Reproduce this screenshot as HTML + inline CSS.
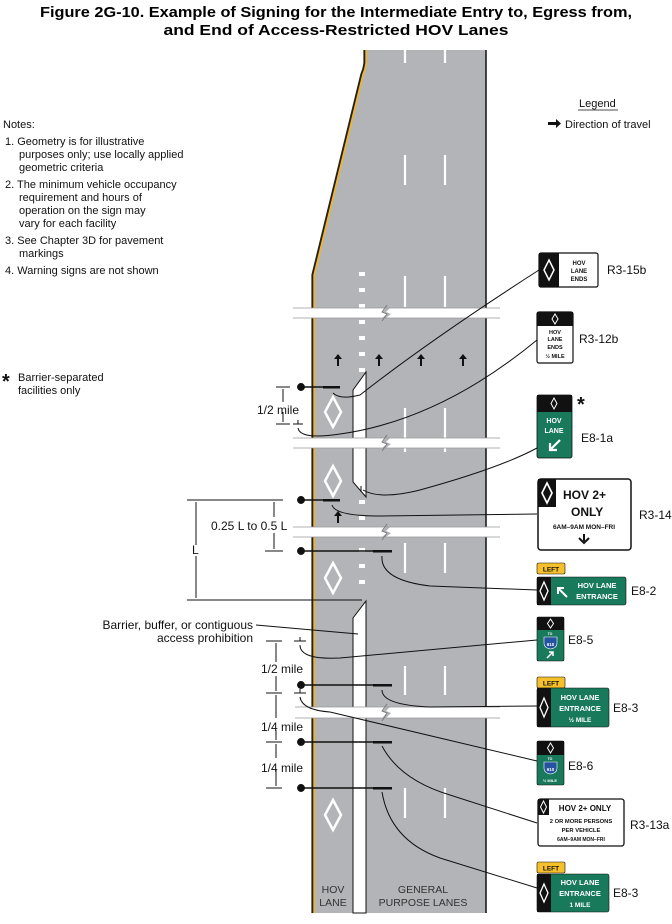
<!DOCTYPE html>
<html><head><style>
html,body{margin:0;padding:0;background:#fff}
svg{display:block}
text{font-family:"Liberation Sans",Arial,sans-serif}
</style></head><body>
<svg width="672" height="924" viewBox="0 0 672 924" xmlns="http://www.w3.org/2000/svg">
<text x="336" y="17" font-size="15" font-weight="bold" text-anchor="middle" textLength="592" lengthAdjust="spacingAndGlyphs">Figure 2G-10.  Example of Signing for the Intermediate Entry to, Egress from,</text>
<text x="336" y="35" font-size="15" font-weight="bold" text-anchor="middle" textLength="345" lengthAdjust="spacingAndGlyphs">and End of Access-Restricted HOV Lanes</text>

<path d="M365,50 L365,63 Q364,70 362,74 L313,275 L313,913 L486,913 L486,50 Z" fill="#b2b4b7"/>
<path d="M365,50 L365,63 Q364,70 362,74 L313,275 L313,913" fill="none" stroke="#222" stroke-width="3.2"/>
<path d="M365,50 L365,63 Q364,70 362,74 L313,275 L313,913" fill="none" stroke="#f2b42a" stroke-width="1.8" transform="translate(1.2,0)"/>
<line x1="486" y1="50" x2="486" y2="913" stroke="#111" stroke-width="1.5"/>

<g stroke="#fff" stroke-width="2.2">
<line x1="405" y1="50" x2="405" y2="63"/><line x1="445" y1="50" x2="445" y2="63"/>
<line x1="405" y1="155" x2="405" y2="185"/><line x1="445" y1="155" x2="445" y2="185"/>
<line x1="405" y1="276" x2="405" y2="307"/><line x1="445" y1="276" x2="445" y2="307"/>
<line x1="405" y1="408" x2="405" y2="452"/><line x1="445" y1="408" x2="445" y2="452"/>
<line x1="405" y1="543" x2="405" y2="573"/><line x1="445" y1="543" x2="445" y2="573"/>
<line x1="405" y1="666" x2="405" y2="695"/><line x1="445" y1="666" x2="445" y2="695"/>
<line x1="405" y1="788" x2="405" y2="818"/><line x1="445" y1="788" x2="445" y2="818"/>
</g>
<g fill="#fff">
<rect x="359" y="272" width="6" height="4"/><rect x="359" y="288" width="6" height="4"/><rect x="359" y="304" width="6" height="4"/>
<rect x="359" y="320" width="6" height="4"/><rect x="359" y="336" width="6" height="4"/><rect x="359" y="352" width="6" height="4"/>
<rect x="359" y="368" width="6" height="4"/>
<rect x="359" y="500" width="6" height="4"/><rect x="359" y="516" width="6" height="4"/><rect x="359" y="532" width="6" height="4"/>
<rect x="359" y="548" width="6" height="4"/><rect x="359" y="564" width="6" height="4"/><rect x="359" y="580" width="6" height="4"/>
</g>
<path d="M366,372 L366,497 L353,482 L353,390 Z" fill="#fff" stroke="#111" stroke-width="1"/>
<path d="M366,601 L366,913 L353,913 L353,618 Z" fill="#fff" stroke="#111" stroke-width="1"/>

<g fill="#111">
<path d="M338,354 l-4,5 h3 v7 h2 v-7 h3 z"/>
<path d="M379,354 l-4,5 h3 v7 h2 v-7 h3 z"/>
<path d="M421,354 l-4,5 h3 v7 h2 v-7 h3 z"/>
<path d="M463,354 l-4,5 h3 v7 h2 v-7 h3 z"/>
<path d="M338,511 l-4,5 h3 v7 h2 v-7 h3 z"/>
</g>
<g fill="none" stroke="#fff" stroke-width="2.5">
<path d="M333,397 l8,15 l-8,15 l-8,-15 z"/>
<path d="M333,466 l8,15 l-8,15 l-8,-15 z"/>
<path d="M333,563 l8,15 l-8,15 l-8,-15 z"/>
<path d="M333,800 l8,15 l-8,15 l-8,-15 z"/>
</g>

<g id="bands">
<g transform="translate(0,308)">
<path d="M293,0 H386 l-4,4 l5,2 l-5,4 H293 Z" fill="#fff"/>
<path d="M390,0 H500 V10 H386 l5,-4 l-5,-2 Z" fill="#fff"/>
<line x1="293" y1="0" x2="500" y2="0" stroke="#999" stroke-width="0.8"/><line x1="293" y1="10" x2="500" y2="10" stroke="#999" stroke-width="0.8"/>
<path d="M387,-3 l-5,7 l5,2 l-5,7" fill="none" stroke="#777" stroke-width="0.9"/>
</g>
<g transform="translate(0,438)">
<path d="M293,0 H386 l-4,4 l5,2 l-5,4 H293 Z" fill="#fff"/>
<path d="M390,0 H500 V10 H386 l5,-4 l-5,-2 Z" fill="#fff"/>
<line x1="293" y1="0" x2="500" y2="0" stroke="#999" stroke-width="0.8"/><line x1="293" y1="10" x2="500" y2="10" stroke="#999" stroke-width="0.8"/>
<path d="M387,-3 l-5,7 l5,2 l-5,7" fill="none" stroke="#777" stroke-width="0.9"/>
</g>
<g transform="translate(0,527)">
<path d="M293,0 H386 l-4,4 l5,2 l-5,4 H293 Z" fill="#fff"/>
<path d="M390,0 H500 V10 H386 l5,-4 l-5,-2 Z" fill="#fff"/>
<line x1="293" y1="0" x2="500" y2="0" stroke="#999" stroke-width="0.8"/><line x1="293" y1="10" x2="500" y2="10" stroke="#999" stroke-width="0.8"/>
<path d="M387,-3 l-5,7 l5,2 l-5,7" fill="none" stroke="#777" stroke-width="0.9"/>
</g>
<g transform="translate(0,707)">
<path d="M295,0 H386 l-4,4 l5,2 l-5,5 H295 Z" fill="#fff"/>
<path d="M390,0 H500 V11 H386 l5,-5 l-5,-2 Z" fill="#fff"/>
<line x1="295" y1="0" x2="500" y2="0" stroke="#999" stroke-width="0.8"/><line x1="295" y1="11" x2="500" y2="11" stroke="#999" stroke-width="0.8"/>
<path d="M387,-3 l-5,7 l5,2 l-5,8" fill="none" stroke="#777" stroke-width="0.9"/>
</g>
</g>

<g stroke="#111" stroke-width="1.5" fill="#111">
<circle cx="301" cy="387" r="3.2"/><line x1="301" y1="387" x2="340" y2="387"/><rect x="323" y="386" width="17" height="2.5" stroke="none"/>
<circle cx="301" cy="500" r="3.2"/><line x1="301" y1="500" x2="340" y2="500"/><rect x="323" y="499" width="17" height="2.5" stroke="none"/>
<circle cx="301" cy="551" r="3.2"/><line x1="301" y1="551" x2="392" y2="551"/><rect x="373" y="550" width="19" height="2.5" stroke="none"/>
<circle cx="301" cy="685" r="3.2"/><line x1="301" y1="685" x2="392" y2="685"/><rect x="373" y="684" width="19" height="2.5" stroke="none"/>
<circle cx="301" cy="742" r="3.2"/><line x1="301" y1="742" x2="392" y2="742"/><rect x="373" y="741" width="19" height="2.5" stroke="none"/>
<circle cx="301" cy="788" r="3.2"/><line x1="301" y1="788" x2="392" y2="788"/><rect x="373" y="787" width="19" height="2.5" stroke="none"/>
</g>
<g stroke="#111" stroke-width="1" fill="none">
<line x1="293" y1="424" x2="303" y2="424"/><line x1="298" y1="420" x2="298" y2="424"/>
<line x1="294" y1="641" x2="306" y2="641"/><line x1="300" y1="637" x2="300" y2="641"/>
<line x1="294" y1="693" x2="306" y2="693"/><line x1="300" y1="689" x2="300" y2="693"/>
<line x1="361" y1="486" x2="361" y2="492"/>
</g>

<g stroke="#111" stroke-width="1" fill="none">
<line x1="276" y1="387" x2="290" y2="387"/><line x1="276" y1="424" x2="290" y2="424"/>
<line x1="283" y1="389" x2="283" y2="402"/><line x1="283" y1="412" x2="283" y2="422"/>
<line x1="187" y1="500" x2="283" y2="500"/><line x1="265" y1="551" x2="283" y2="551"/>
<line x1="187" y1="600" x2="362" y2="600"/>
<line x1="196" y1="502" x2="196" y2="545"/><line x1="196" y1="556" x2="196" y2="598"/>
<line x1="274" y1="502" x2="274" y2="517"/><line x1="274" y1="533" x2="274" y2="549"/>
<line x1="266" y1="641" x2="282" y2="641"/><line x1="266" y1="693" x2="282" y2="693"/>
<line x1="276" y1="643" x2="276" y2="662"/><line x1="276" y1="676" x2="276" y2="691"/>
<line x1="276" y1="695" x2="276" y2="718"/><line x1="276" y1="730" x2="276" y2="740"/>
<line x1="266" y1="742" x2="282" y2="742"/>
<line x1="276" y1="744" x2="276" y2="758"/><line x1="276" y1="770" x2="276" y2="786"/>
<line x1="266" y1="788" x2="282" y2="788"/>
<line x1="256" y1="625" x2="358" y2="634"/>
</g>
<g fill="#111" font-size="12">
<text x="257" y="414">1/2 mile</text>
<text x="211" y="530">0.25 L to 0.5 L</text>
<text x="192" y="554">L</text>
<text x="261" y="673">1/2 mile</text>
<text x="261" y="731">1/4 mile</text>
<text x="261" y="772">1/4 mile</text>
<text x="253" y="629" text-anchor="end">Barrier, buffer, or contiguous</text>
<text x="253" y="642" text-anchor="end">access prohibition</text>
<text x="333" y="893" text-anchor="middle" font-size="10.5" fill="#333">HOV</text>
<text x="333" y="906" text-anchor="middle" font-size="10.5" fill="#333">LANE</text>
<text x="423" y="893" text-anchor="middle" font-size="10.5" fill="#333">GENERAL</text>
<text x="423" y="906" text-anchor="middle" font-size="10.5" fill="#333">PURPOSE LANES</text>
</g>

<g stroke="#111" stroke-width="1" fill="none">
<path d="M333,393 Q340,400 360,395 Q430,340 539,270"/>
<path d="M298,428 Q300,440 340,434 Q440,420 537,340"/>
<path d="M363,490 Q380,500 420,490 Q500,468 537,448"/>
<path d="M332,505 Q335,516 380,516 L537,514"/>
<path d="M382,556 Q380,580 430,586 L537,590"/>
<path d="M300,645 Q300,660 340,658 L537,640"/>
<path d="M382,690 Q382,705 430,707 L537,706"/>
<path d="M300,697 Q302,710 330,712 L537,761"/>
<path d="M382,746 Q400,780 450,795 L537,823"/>
<path d="M382,792 Q390,840 440,858 L537,888"/>
</g>

<g font-size="11" fill="#111">
<text x="3" y="128">Notes:</text>
<text x="5" y="145">1.  Geometry is for illustrative</text>
<text x="19" y="158">purposes only; use locally applied</text>
<text x="19" y="171">geometric criteria</text>
<text x="5" y="188">2.  The minimum vehicle occupancy</text>
<text x="19" y="201">requirement and hours of</text>
<text x="19" y="214">operation on the sign may</text>
<text x="19" y="227">vary for each facility</text>
<text x="5" y="244">3.  See Chapter 3D for pavement</text>
<text x="19" y="257">markings</text>
<text x="5" y="274">4.  Warning signs are not shown</text>
<text x="2" y="388" font-size="20" font-weight="bold">*</text>
<text x="18" y="381">Barrier-separated</text>
<text x="18" y="394">facilities only</text>
<text x="579" y="107">Legend</text>
<line x1="578" y1="110" x2="618" y2="110" stroke="#111" stroke-width="0.8"/>
<path d="M548,122 h8 v-3 l5,4.5 l-5,4.5 v-3 h-8 z"/>
<text x="565" y="128">Direction of travel</text>
</g>

<g font-family="Liberation Sans" font-weight="bold">
<rect x="539" y="253" width="59" height="34" rx="2" fill="#fff" stroke="#111" stroke-width="1.2"/>
<rect x="539" y="253" width="20" height="34" fill="#111"/>
<path d="M549,260 l5,10 l-5,10 l-5,-10 z" fill="none" stroke="#fff" stroke-width="1.5"/>
<text x="579" y="265" font-size="6" text-anchor="middle" fill="#111">HOV</text>
<text x="579" y="273" font-size="6" text-anchor="middle" fill="#111">LANE</text>
<text x="579" y="281" font-size="6" text-anchor="middle" fill="#111">ENDS</text>
<rect x="537" y="312" width="36" height="51" rx="2" fill="#fff" stroke="#111" stroke-width="1.2"/>
<rect x="537" y="312" width="36" height="14" fill="#111"/>
<path d="M555,314 l3,5 l-3,5 l-3,-5 z" fill="none" stroke="#fff" stroke-width="1"/>
<text x="555" y="334" font-size="5.5" text-anchor="middle" fill="#111">HOV</text>
<text x="555" y="341" font-size="5.5" text-anchor="middle" fill="#111">LANE</text>
<text x="555" y="349" font-size="5.5" text-anchor="middle" fill="#111">ENDS</text>
<text x="555" y="358" font-size="5.5" text-anchor="middle" fill="#111">½ MILE</text>
<rect x="537" y="395" width="35" height="63" rx="2" fill="#187a5b" stroke="#111" stroke-width="0.8"/>
<rect x="537" y="395" width="35" height="17" fill="#111"/>
<path d="M554,398 l3,5.5 l-3,5.5 l-3,-5.5 z" fill="none" stroke="#fff" stroke-width="1"/>
<text x="554" y="423" font-size="7" text-anchor="middle" fill="#fff">HOV</text>
<text x="554" y="433" font-size="7" text-anchor="middle" fill="#fff">LANE</text>
<path d="M560,440 l-9,9 M550,443 v7 h7" stroke="#fff" stroke-width="2.2" fill="none"/>
<rect x="538" y="479" width="93" height="71" rx="3" fill="#fff" stroke="#111" stroke-width="1.5"/>
<rect x="538" y="479" width="18" height="28" fill="#111"/>
<path d="M547,483 l5,10 l-5,10 l-5,-10 z" fill="none" stroke="#fff" stroke-width="1.7"/>
<text x="563" y="499" font-size="12" fill="#111">HOV 2+</text>
<text x="571" y="516" font-size="12" fill="#111">ONLY</text>
<text x="584" y="529" font-size="6.5" text-anchor="middle" fill="#111">6AM–9AM MON–FRI</text>
<path d="M584,534 v7 M579,538 l5,5 l5,-5" stroke="#111" stroke-width="2" fill="none"/>
<rect x="537" y="563" width="28" height="11" rx="1.5" fill="#f5c02a" stroke="#111" stroke-width="0.6"/>
<text x="551" y="571.5" font-size="6.5" text-anchor="middle" fill="#111">LEFT</text>
<rect x="537" y="577" width="89" height="28" rx="2" fill="#187a5b" stroke="#111" stroke-width="0.6"/>
<rect x="537" y="577" width="14" height="28" fill="#111"/>
<path d="M544,582 l4,9 l-4,9 l-4,-9 z" fill="none" stroke="#fff" stroke-width="1.3"/>
<path d="M567,597 l-8,-8 M558,594 v-6 h6" stroke="#fff" stroke-width="2" fill="none"/>
<text x="597" y="588" font-size="7.5" text-anchor="middle" fill="#fff">HOV LANE</text>
<text x="597" y="599" font-size="7.5" text-anchor="middle" fill="#fff">ENTRANCE</text>
<rect x="537" y="617" width="27" height="44" rx="1.5" fill="#187a5b" stroke="#111" stroke-width="0.6"/>
<rect x="537" y="617" width="27" height="13" fill="#111"/>
<path d="M550.5,619 l3,4.5 l-3,4.5 l-3,-4.5 z" fill="none" stroke="#fff" stroke-width="1"/>
<text x="550" y="635" font-size="3.5" text-anchor="middle" fill="#fff">TO</text>
<path d="M544,637 h13 v6 q0,5 -6.5,6 q-6.5,-1 -6.5,-6 z" fill="#2653a0" stroke="#fff" stroke-width="0.6"/>
<text x="550.5" y="646" font-size="4.5" text-anchor="middle" fill="#fff">610</text>
<path d="M547,658 l6,-6 M549,652 h4 v4" stroke="#fff" stroke-width="1.5" fill="none"/>
<rect x="537" y="677" width="28" height="11" rx="1.5" fill="#f5c02a" stroke="#111" stroke-width="0.6"/>
<text x="551" y="685.5" font-size="6.5" text-anchor="middle" fill="#111">LEFT</text>
<rect x="537" y="688" width="72" height="39" rx="2" fill="#187a5b" stroke="#111" stroke-width="0.6"/>
<rect x="537" y="688" width="14" height="39" fill="#111"/>
<path d="M544,698 l4,9.5 l-4,9.5 l-4,-9.5 z" fill="none" stroke="#fff" stroke-width="1.3"/>
<text x="580" y="700" font-size="7.5" text-anchor="middle" fill="#fff">HOV LANE</text>
<text x="580" y="711" font-size="7.5" text-anchor="middle" fill="#fff">ENTRANCE</text>
<text x="580" y="722" font-size="6.5" text-anchor="middle" fill="#fff">½  MILE</text>
<rect x="537" y="741" width="27" height="44" rx="1.5" fill="#187a5b" stroke="#111" stroke-width="0.6"/>
<rect x="537" y="741" width="27" height="14" fill="#111"/>
<path d="M550.5,743 l3,5 l-3,5 l-3,-5 z" fill="none" stroke="#fff" stroke-width="1"/>
<text x="550" y="760" font-size="3.5" text-anchor="middle" fill="#fff">TO</text>
<path d="M544,762 h13 v6 q0,5 -6.5,6 q-6.5,-1 -6.5,-6 z" fill="#2653a0" stroke="#fff" stroke-width="0.6"/>
<text x="550.5" y="771" font-size="4.5" text-anchor="middle" fill="#fff">610</text>
<text x="550" y="782" font-size="4" text-anchor="middle" fill="#fff">½ MILE</text>
<rect x="538" y="799" width="86" height="47" rx="2.5" fill="#fff" stroke="#111" stroke-width="1.3"/>
<rect x="538" y="799" width="11" height="16" fill="#111"/>
<path d="M543.5,801 l3,6 l-3,6 l-3,-6 z" fill="none" stroke="#fff" stroke-width="1"/>
<text x="585" y="811" font-size="8" text-anchor="middle" fill="#111">HOV 2+ ONLY</text>
<text x="581" y="823" font-size="5.8" text-anchor="middle" fill="#111">2 OR MORE PERSONS</text>
<text x="581" y="832" font-size="5.8" text-anchor="middle" fill="#111">PER VEHICLE</text>
<text x="581" y="841" font-size="5" text-anchor="middle" fill="#111">6AM–9AM    MON–FRI</text>
<rect x="537" y="862" width="28" height="11" rx="1.5" fill="#f5c02a" stroke="#111" stroke-width="0.6"/>
<text x="551" y="870.5" font-size="6.5" text-anchor="middle" fill="#111">LEFT</text>
<rect x="537" y="874" width="72" height="38" rx="2" fill="#187a5b" stroke="#111" stroke-width="0.6"/>
<rect x="537" y="874" width="14" height="38" fill="#111"/>
<path d="M544,884 l4,9 l-4,9 l-4,-9 z" fill="none" stroke="#fff" stroke-width="1.3"/>
<text x="580" y="885" font-size="7.5" text-anchor="middle" fill="#fff">HOV LANE</text>
<text x="580" y="896" font-size="7.5" text-anchor="middle" fill="#fff">ENTRANCE</text>
<text x="580" y="907" font-size="6.5" text-anchor="middle" fill="#fff">1  MILE</text>
</g>
<g font-size="12" fill="#111">
<text x="607" y="274">R3-15b</text>
<text x="579" y="343">R3-12b</text>
<text x="581" y="442">E8-1a</text>
<text x="577" y="411" font-size="20" font-weight="bold">*</text>
<text x="639" y="519">R3-14</text>
<text x="631" y="595">E8-2</text>
<text x="568" y="644">E8-5</text>
<text x="613" y="712">E8-3</text>
<text x="568" y="770">E8-6</text>
<text x="630" y="829">R3-13a</text>
<text x="613" y="897">E8-3</text>
</g>
</svg>
</body></html>
